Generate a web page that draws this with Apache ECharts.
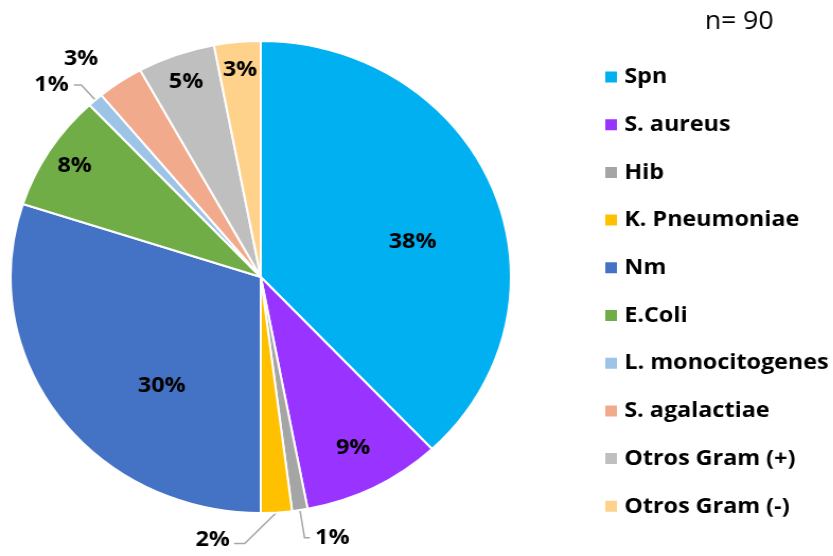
<!DOCTYPE html>
<html>
<head>
<meta charset="utf-8">
<script src="https://cdn.jsdelivr.net/npm/echarts@6/dist/echarts.min.js"></script>
<style>
  html, body { margin: 0; padding: 0; background: #fff; overflow: hidden; }
  /* el original esta un poco estirado en horizontal */
  #main { width: 786px; height: 556px; transform: scaleX(1.06); transform-origin: 0 0; }
</style>
</head>
<body>
<div id="main"></div>
<script>
// datos: porcentaje por agente (n = 90)
var nombres = ["Spn", "S. aureus", "Hib", "K. Pneumoniae", "Nm", "E.Coli",
               "L. monocitogenes", "S. agalactiae", "Otros Gram (+)", "Otros Gram (-)"];
var valores = [38, 9, 1, 2, 30, 8, 1, 3, 5, 3];
var colores = ["#00B0F0", "#9933FF", "#A5A5A5", "#FFC000", "#4472C4", "#70AD47",
               "#9DC3E6", "#F2AA8C", "#BFBFBF", "#FFD28C"];
var totalN = 90;

var CX = 246, CY = 277, R = 236;
var fuente = "'Open Sans', 'Liberation Sans', sans-serif";

// grupos de etiquetas
var etiqCentro = ["Spn", "Nm"];                                   // cerca del centro
var etiqMedio = ["S. aureus"];
var etiqBorde = ["E.Coli", "Otros Gram (+)", "Otros Gram (-)"];  // cerca del borde
var etiqFuera = {                                                 // afuera con linea
    "Hib": { length: 28, length2: 5, show: true },
    "K. Pneumoniae": { length: 30, length2: 10, show: true },
    "L. monocitogenes": { length: 20, length2: 7, show: true },
    "S. agalactiae": { length: 28, length2: 0, show: false }
};
// ajuste fino de etiquetas centrales (Excel las corre un poco)
var ajusteCentro = { "Spn": [7, 19], "Nm": [27, 22] };

var labelBase = {
    color: "#000",
    fontFamily: fuente,
    fontWeight: "bold",
    fontSize: 22,
    formatter: "{c}%"
};

// serie principal: porciones + etiquetas de afuera
var datosMain = nombres.map(function (n, i) {
    var item = { name: n, value: valores[i], itemStyle: { color: colores[i] } };
    if (etiqFuera[n]) {
        item.label = { show: true, position: "outside" };
        item.labelLine = { show: etiqFuera[n].show, length: etiqFuera[n].length, length2: etiqFuera[n].length2 };
    } else {
        item.label = { show: false };
        item.labelLine = { show: false };
    }
    return item;
});

// series invisibles solo para ubicar etiquetas internas a otro radio
function serieEtiq(r0, lista, ajuste) {
    return {
        type: "pie",
        center: [CX, CY],
        radius: [r0, R],
        startAngle: 90,
        clockwise: true,
        silent: true,
        avoidLabelOverlap: false,
        emphasis: { disabled: true },
        itemStyle: { color: "rgba(0,0,0,0)", borderWidth: 0 },
        label: Object.assign({ position: "inside" }, labelBase),
        labelLine: { show: false },
        labelLayout: function (p) {
            var a = ajuste && ajuste[nombres[p.dataIndex]];
            if (a) return { dx: a[0] / 1.06, dy: a[1] };
        },
        data: nombres.map(function (n, i) {
            return { name: n, value: valores[i], label: { show: lista.indexOf(n) >= 0 } };
        })
    };
}

var chart = echarts.init(document.getElementById("main"));
chart.setOption({
    animation: false,
    backgroundColor: "#fff",
    title: {
        text: "n= " + totalN,
        left: 660,
        top: 4,
        textStyle: { fontFamily: fuente, fontWeight: "normal", fontSize: 25, color: "#000" }
    },
    legend: {
        orient: "vertical",
        left: 564,
        top: 61,
        itemWidth: 13,
        itemHeight: 13,
        itemGap: 25.7,
        icon: "rect",
        data: nombres,
        textStyle: { fontFamily: fuente, fontWeight: "bold", fontSize: 22, color: "#000", lineHeight: 22, padding: [0, 0, 0, 1] }
    },
    series: [
        {
            type: "pie",
            center: [CX, CY],
            radius: [0, R],
            startAngle: 90,
            clockwise: true,
            avoidLabelOverlap: false,
            emphasis: { disabled: true },
            itemStyle: { borderColor: "#fff", borderWidth: 2 },
            label: labelBase,
            labelLine: { lineStyle: { color: "#a6a6a6", width: 1.5 }, smooth: false },
            labelLayout: function (p) {
                // K. Pneumoniae: etiqueta hacia la izquierda como en el original
                if (p.dataIndex === 3 && p.labelLinePoints) {
                    var p0 = p.labelLinePoints[0];
                    var p1 = [p0[0] - 30, p0[1] + 31];
                    var p2 = [p1[0] - 10, p1[1]];
                    return {
                        x: p2[0] - 4,
                        y: p2[1] - 4,
                        align: "right",
                        verticalAlign: "middle",
                        labelLinePoints: [p0, p1, p2]
                    };
                }
            },
            data: datosMain
        },
        serieEtiq(52, etiqCentro, ajusteCentro),
        serieEtiq(142, etiqMedio),
        serieEtiq(174, etiqBorde)
    ]
});
</script>
</body>
</html>
